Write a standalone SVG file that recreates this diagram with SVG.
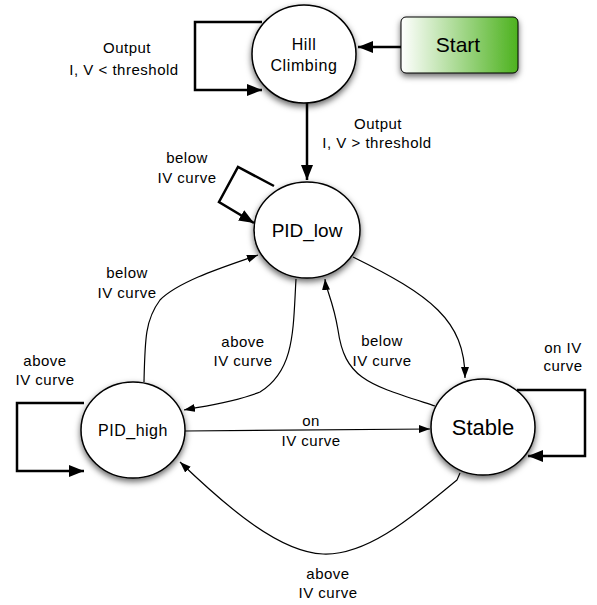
<svg xmlns="http://www.w3.org/2000/svg" width="597" height="605" viewBox="0 0 597 605">
<defs>
<filter id="sh" x="-30%" y="-30%" width="160%" height="170%">
<feDropShadow dx="0" dy="3" stdDeviation="3" flood-color="#000" flood-opacity="0.6"/>
</filter>
<linearGradient id="g" x1="0" y1="0" x2="1" y2="0">
<stop offset="0" stop-color="#ffffff"/>
<stop offset="1" stop-color="#4db21e"/>
</linearGradient>
<marker id="ab" markerUnits="userSpaceOnUse" markerWidth="16" markerHeight="12" refX="15" refY="6" orient="auto">
<path d="M0,0 L15,6 L0,12 z" fill="#000"/>
</marker>
<marker id="at" markerUnits="userSpaceOnUse" markerWidth="12" markerHeight="10" refX="11" refY="4" orient="auto">
<path d="M0,0 L11,4 L0,8 z" fill="#000"/>
</marker>
</defs>
<style>
.node ellipse{fill:#fff;stroke:#000;stroke-width:1.5;filter:url(#sh)}
.t{font-family:"Liberation Sans",Arial,sans-serif;fill:#000;text-anchor:middle}
.lbl{font-family:"Liberation Sans",Arial,sans-serif;font-size:15px;letter-spacing:0.5px;fill:#000;text-anchor:middle}
.thick{fill:none;stroke:#000;stroke-width:2.5;marker-end:url(#ab)}
.thin{fill:none;stroke:#000;stroke-width:1.2;marker-end:url(#at)}
</style>
<g id="connectors">
<path class="thick" d="M262,22 L195,22 L195,90 L262,90"/>
<path class="thick" d="M401,47 L358,47"/>
<path class="thick" d="M307,103 L307,180"/>
<path class="thick" d="M274,186 L238,167 L219,202 L254,223"/>
<path class="thick" d="M84,403 L17,403 L17,471 L84,471"/>
<path class="thick" d="M517,390 L585,390 L585,456 L528,456"/>
<path class="thin" d="M353,257 C430,295 465,320 465,378"/>
<path class="thin" d="M435,406 C370,385 345,380 338,330 C333,300 326,290 325,279"/>
<path class="thin" d="M296,279 C293,330 295,370 260,392 C235,402 205,406 184,410"/>
<path class="thin" d="M144,382 C145,340 145,320 160,300 C180,280 230,265 258,255"/>
<path class="thin" d="M185,431 L430,429"/>
<path class="thin" d="M460,473 L457,480 C420,510 370,556 323,554 C280,552 230,510 180,462"/>
</g>
<g id="labels">
<text class="lbl" x="127" y="53">Output</text>
<text class="lbl" x="124" y="75">I, V &lt; threshold</text>
<text class="lbl" x="378" y="129">Output</text>
<text class="lbl" x="377" y="148">I, V &gt; threshold</text>
<text class="lbl" x="187" y="163">below</text>
<text class="lbl" x="187" y="183">IV curve</text>
<text class="lbl" x="127" y="278">below</text>
<text class="lbl" x="127" y="298">IV curve</text>
<text class="lbl" x="243" y="347">above</text>
<text class="lbl" x="243" y="366">IV curve</text>
<text class="lbl" x="45" y="366">above</text>
<text class="lbl" x="45" y="385">IV curve</text>
<text class="lbl" x="311" y="426">on</text>
<text class="lbl" x="311" y="446">IV curve</text>
<text class="lbl" x="382" y="346">below</text>
<text class="lbl" x="382" y="366">IV curve</text>
<text class="lbl" x="563" y="353">on IV</text>
<text class="lbl" x="563" y="371">curve</text>
<text class="lbl" x="328" y="579">above</text>
<text class="lbl" x="328" y="598">IV curve</text>
</g>
<g id="start">
<rect x="401" y="17" width="117" height="56" rx="5" fill="url(#g)" stroke="#000" stroke-width="1" filter="url(#sh)"/>
<text class="t" x="458" y="52" font-size="21">Start</text>
</g>
<g id="hill" class="node">
<ellipse cx="304" cy="54" rx="52" ry="49"/>
<text class="t" x="304" y="50" font-size="16" letter-spacing="0.6">Hill</text>
<text class="t" x="304" y="71" font-size="16" letter-spacing="0.6">Climbing</text>
</g>
<g id="pid_low" class="node">
<ellipse cx="307" cy="230" rx="53" ry="48"/>
<text class="t" x="307" y="237" font-size="19">PID_low</text>
</g>
<g id="pid_high" class="node">
<ellipse cx="133" cy="430" rx="52" ry="48"/>
<text class="t" x="133" y="436" font-size="16" letter-spacing="0.5">PID_high</text>
</g>
<g id="stable" class="node">
<ellipse cx="483" cy="427" rx="52" ry="48"/>
<text class="t" x="483" y="435" font-size="22">Stable</text>
</g>
</svg>
